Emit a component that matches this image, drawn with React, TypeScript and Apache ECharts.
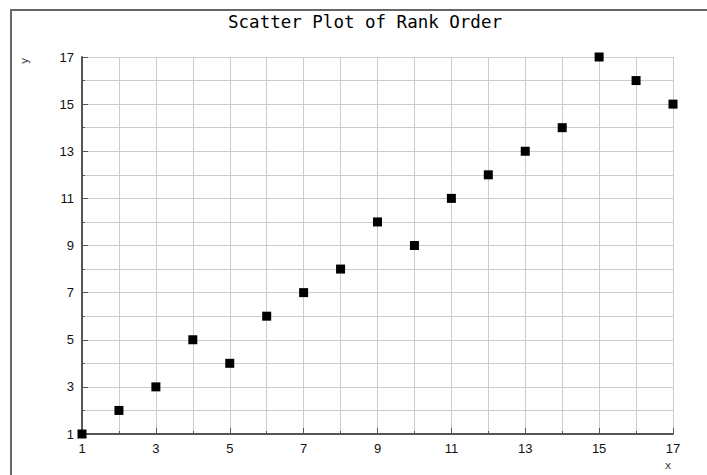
import React, { useEffect, useRef } from "react";
import * as echarts from "echarts";

const xValues = [1, 2, 3, 4, 5, 6, 7, 8, 9, 10, 11, 12, 13, 14, 15, 16, 17];
const yValues = [1, 2, 3, 5, 4, 6, 7, 8, 10, 9, 11, 12, 13, 14, 17, 16, 15];
const majorTicks = [1, 3, 5, 7, 9, 11, 13, 15, 17];
const titleText = "Scatter Plot of Rank Order";

export default function App() {
  const ref = useRef<HTMLDivElement>(null);
  useEffect(() => {
    document.body.style.margin = "0";
    if (!ref.current) return;
    const chart = echarts.init(ref.current, undefined, { renderer: "svg" });
    const labelFont = { fontFamily: "Liberation Sans", fontSize: 13, color: "#111" };
    const minorAxis = (pos: string) => ({
      type: "value",
      min: 1,
      max: 17,
      interval: 1,
      position: pos,
      axisLine: { show: true, onZero: false, lineStyle: { color: "#555", width: 2 } },
      axisTick: { show: true, inside: true, length: 3, lineStyle: { color: "#555" } },
      splitLine: { show: true, lineStyle: { color: "#cccccc", width: 1 } },
      axisLabel: {
        ...labelFont,
        margin: 8,
        showMinLabel: true,
        showMaxLabel: true,
        formatter: (v: number) => (majorTicks.includes(v) ? String(v) : ""),
      },
    });
    const majorAxis = (pos: string) => ({
      type: "value",
      min: 1,
      max: 17,
      interval: 1,
      position: pos,
      axisLine: { show: false, onZero: false },
      axisTick: { show: true, inside: true, length: 6, customValues: majorTicks, lineStyle: { color: "#555" } },
      splitLine: { show: false },
      axisLabel: { show: false },
    });
    chart.setOption({
      animation: false,
      backgroundColor: "#fff",
      grid: { left: 82, top: 57, width: 591, height: 377, containLabel: false },
      xAxis: [minorAxis("bottom"), majorAxis("bottom")],
      yAxis: [minorAxis("left"), majorAxis("left")],
      series: [
        {
          type: "scatter",
          data: xValues.map((x, i) => [x, yValues[i]]),
          symbol: "rect",
          symbolSize: 9,
          itemStyle: { color: "#000", opacity: 1 },
          z: 5,
        },
      ],
      graphic: [
        {
          type: "rect",
          shape: { x: 11, y: 10, width: 740, height: 520 },
          style: { fill: "none", stroke: "#666", lineWidth: 2 },
          silent: true,
        },
        {
          type: "text",
          x: 365,
          y: 22,
          style: {
            text: titleText,
            font: "17.5px 'DejaVu Sans Mono'",
            fill: "#000",
            textAlign: "center",
            textVerticalAlign: "middle",
          },
        },
        {
          type: "text",
          x: 24,
          y: 61,
          rotation: Math.PI / 2,
          style: {
            text: "y",
            font: "11px 'DejaVu Sans Mono'",
            fill: "#333",
            textAlign: "center",
            textVerticalAlign: "middle",
          },
        },
        {
          type: "text",
          x: 668,
          y: 465,
          style: {
            text: "x",
            font: "11px 'DejaVu Sans Mono'",
            fill: "#333",
            textAlign: "center",
            textVerticalAlign: "middle",
          },
        },
      ],
    });
    return () => chart.dispose();
  }, []);
  return <div ref={ref} style={{ width: 707, height: 475 }} />;
}
